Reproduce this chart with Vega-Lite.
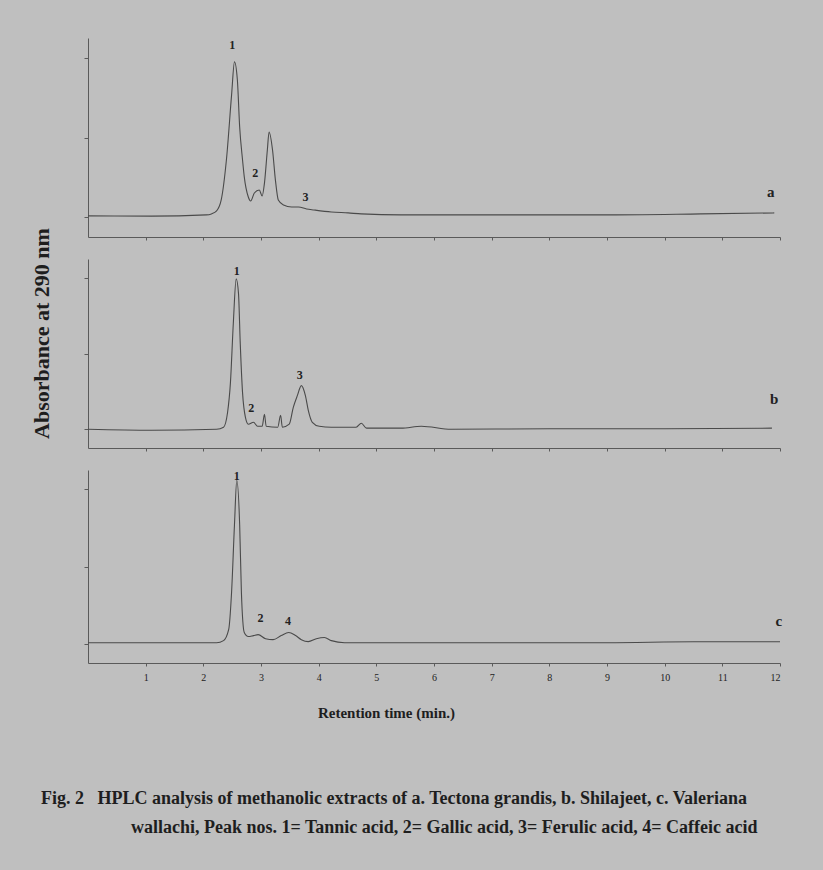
{
  "$schema": "https://vega.github.io/schema/vega-lite/v6.json",
  "background": "#bfbfbf",
  "padding": {"left": 29, "top": 38, "right": 60, "bottom": 60},
  "config": {
    "view": {"stroke": null},
    "font": "Liberation Serif",
    "axis": {"grid": false, "domainColor": "#5a5a5a", "tickColor": "#5a5a5a", "domainWidth": 1, "tickWidth": 1, "labelFont": "Liberation Serif", "titleFont": "Liberation Serif"}
  },
  "datasets": {
    "trace": [
      {"sample": "a", "t": 0, "v": 10.6}, {"sample": "a", "t": 1.1, "v": 10.5}, {"sample": "a", "t": 2.05, "v": 11.1}, {"sample": "a", "t": 2.14, "v": 11.6}, {"sample": "a", "t": 2.23, "v": 13.1}, {"sample": "a", "t": 2.31, "v": 18.6}, {"sample": "a", "t": 2.4, "v": 38.7}, {"sample": "a", "t": 2.49, "v": 71.4}, {"sample": "a", "t": 2.54, "v": 88.0}, {"sample": "a", "t": 2.59, "v": 79.0}, {"sample": "a", "t": 2.63, "v": 55.3}, {"sample": "a", "t": 2.68, "v": 38.7}, {"sample": "a", "t": 2.71, "v": 30.2}, {"sample": "a", "t": 2.78, "v": 20.1}, {"sample": "a", "t": 2.82, "v": 18.1}, {"sample": "a", "t": 2.885, "v": 22.1}, {"sample": "a", "t": 2.97, "v": 23.6}, {"sample": "a", "t": 3.02, "v": 20.6}, {"sample": "a", "t": 3.06, "v": 27.1}, {"sample": "a", "t": 3.11, "v": 43.7}, {"sample": "a", "t": 3.14, "v": 52.8}, {"sample": "a", "t": 3.2, "v": 43.7}, {"sample": "a", "t": 3.25, "v": 28.6}, {"sample": "a", "t": 3.3, "v": 18.6}, {"sample": "a", "t": 3.39, "v": 16.1}, {"sample": "a", "t": 3.53, "v": 15.1}, {"sample": "a", "t": 3.65, "v": 15.1}, {"sample": "a", "t": 3.79, "v": 14.1}, {"sample": "a", "t": 3.92, "v": 13.6}, {"sample": "a", "t": 4.22, "v": 12.6}, {"sample": "a", "t": 4.51, "v": 12.1}, {"sample": "a", "t": 4.74, "v": 11.6}, {"sample": "a", "t": 5.43, "v": 11.1}, {"sample": "a", "t": 7.17, "v": 11.1}, {"sample": "a", "t": 8.9, "v": 11.1}, {"sample": "a", "t": 10.63, "v": 11.6}, {"sample": "a", "t": 11.9, "v": 12.1},
      {"sample": "b", "t": 0, "v": 9.9}, {"sample": "b", "t": 1.1, "v": 9.4}, {"sample": "b", "t": 2.23, "v": 9.9}, {"sample": "b", "t": 2.35, "v": 11.0}, {"sample": "b", "t": 2.42, "v": 18.8}, {"sample": "b", "t": 2.47, "v": 34.6}, {"sample": "b", "t": 2.52, "v": 66.0}, {"sample": "b", "t": 2.57, "v": 89.5}, {"sample": "b", "t": 2.61, "v": 81.7}, {"sample": "b", "t": 2.64, "v": 55.5}, {"sample": "b", "t": 2.68, "v": 29.3}, {"sample": "b", "t": 2.73, "v": 16.2}, {"sample": "b", "t": 2.78, "v": 12.6}, {"sample": "b", "t": 2.87, "v": 13.6}, {"sample": "b", "t": 2.94, "v": 11.5}, {"sample": "b", "t": 3.02, "v": 11.5}, {"sample": "b", "t": 3.06, "v": 17.8}, {"sample": "b", "t": 3.09, "v": 11.5}, {"sample": "b", "t": 3.29, "v": 11.0}, {"sample": "b", "t": 3.34, "v": 17.3}, {"sample": "b", "t": 3.37, "v": 11.0}, {"sample": "b", "t": 3.49, "v": 12.6}, {"sample": "b", "t": 3.56, "v": 21.5}, {"sample": "b", "t": 3.63, "v": 27.7}, {"sample": "b", "t": 3.7, "v": 33.0}, {"sample": "b", "t": 3.77, "v": 27.7}, {"sample": "b", "t": 3.82, "v": 19.9}, {"sample": "b", "t": 3.89, "v": 13.6}, {"sample": "b", "t": 4.01, "v": 11.5}, {"sample": "b", "t": 4.22, "v": 11.0}, {"sample": "b", "t": 4.65, "v": 11.0}, {"sample": "b", "t": 4.74, "v": 13.1}, {"sample": "b", "t": 4.83, "v": 10.5}, {"sample": "b", "t": 5.43, "v": 10.5}, {"sample": "b", "t": 5.78, "v": 11.5}, {"sample": "b", "t": 6.3, "v": 9.9}, {"sample": "b", "t": 8.0, "v": 10.2}, {"sample": "b", "t": 10.0, "v": 10.2}, {"sample": "b", "t": 11.86, "v": 10.5},
      {"sample": "c", "t": 0, "v": 10.5}, {"sample": "c", "t": 1.1, "v": 10.5}, {"sample": "c", "t": 2.23, "v": 10.5}, {"sample": "c", "t": 2.35, "v": 11.6}, {"sample": "c", "t": 2.44, "v": 17.4}, {"sample": "c", "t": 2.49, "v": 36.8}, {"sample": "c", "t": 2.54, "v": 71.6}, {"sample": "c", "t": 2.58, "v": 94.7}, {"sample": "c", "t": 2.63, "v": 71.6}, {"sample": "c", "t": 2.66, "v": 36.8}, {"sample": "c", "t": 2.71, "v": 15.8}, {"sample": "c", "t": 2.78, "v": 13.7}, {"sample": "c", "t": 2.87, "v": 14.2}, {"sample": "c", "t": 2.95, "v": 14.7}, {"sample": "c", "t": 3.08, "v": 12.6}, {"sample": "c", "t": 3.21, "v": 12.1}, {"sample": "c", "t": 3.35, "v": 14.2}, {"sample": "c", "t": 3.48, "v": 15.8}, {"sample": "c", "t": 3.6, "v": 14.2}, {"sample": "c", "t": 3.7, "v": 12.1}, {"sample": "c", "t": 3.82, "v": 11.1}, {"sample": "c", "t": 3.96, "v": 12.6}, {"sample": "c", "t": 4.1, "v": 13.2}, {"sample": "c", "t": 4.22, "v": 11.6}, {"sample": "c", "t": 4.45, "v": 10.5}, {"sample": "c", "t": 5.43, "v": 10.5}, {"sample": "c", "t": 7.0, "v": 10.5}, {"sample": "c", "t": 9.0, "v": 10.5}, {"sample": "c", "t": 10.5, "v": 11.0}, {"sample": "c", "t": 12.0, "v": 11.0}
    ],
    "peaks": [
      {"sample": "a", "t": 2.5, "v": 96.5, "label": "1"}, {"sample": "a", "t": 2.9, "v": 32.2, "label": "2"}, {"sample": "a", "t": 3.77, "v": 20.1, "label": "3"},
      {"sample": "b", "t": 2.58, "v": 93.7, "label": "1"}, {"sample": "b", "t": 2.83, "v": 20.9, "label": "2"}, {"sample": "b", "t": 3.67, "v": 38.7, "label": "3"},
      {"sample": "c", "t": 2.58, "v": 97.0, "label": "1"}, {"sample": "c", "t": 2.99, "v": 23.2, "label": "2"}, {"sample": "c", "t": 3.47, "v": 21.6, "label": "4"}
    ],
    "tags": [
      {"sample": "a", "t": 11.84, "v": 22.6, "label": "a"},
      {"sample": "b", "t": 11.9, "v": 25.7, "label": "b"},
      {"sample": "c", "t": 11.98, "v": 21.6, "label": "c"}
    ]
  },
  "title": {
    "text": [
      "Fig. 2\u00a0\u00a0\u00a0HPLC analysis of methanolic extracts of a. Tectona grandis, b. Shilajeet, c. Valeriana",
      "\u200b\u00a0\u00a0\u00a0\u00a0\u00a0\u00a0\u00a0\u00a0\u00a0\u00a0\u00a0\u00a0\u00a0\u00a0\u00a0\u00a0\u00a0\u00a0\u00a0\u00a0wallachi, Peak nos. 1= Tannic acid, 2= Gallic acid, 3= Ferulic acid, 4= Caffeic acid"
    ],
    "orient": "bottom",
    "anchor": "start",
    "dx": 11,
    "offset": 70,
    "font": "Liberation Serif",
    "fontSize": 18,
    "fontWeight": "bold",
    "color": "#1e1e1e",
    "lineHeight": 29
  },
  "bounds": "flush",
  "spacing": 22,
  "vconcat": [
    {
      "width": 692,
      "height": 199,
      "layer": [
        {
          "data": {"name": "trace"},
          "transform": [{"filter": "datum.sample === 'a'"}],
          "mark": {"type": "line", "color": "#4a4a4a", "strokeWidth": 1.1, "interpolate": "monotone"},
          "encoding": {
            "x": {"field": "t", "type": "quantitative", "scale": {"domain": [0, 12], "nice": false, "zero": false},
                  "axis": {"values": [1, 2, 3, 4, 5, 6, 7, 8, 9, 10, 11, 12], "labels": false, "title": null, "tickSize": 3}},
            "y": {"field": "v", "type": "quantitative", "scale": {"domain": [0, 100], "nice": false},
                  "axis": {"values": [10, 50, 90], "labels": false, "title": null, "tickSize": 4}}
          }
        },
        {
          "data": {"name": "peaks"},
          "transform": [{"filter": "datum.sample === 'a'"}],
          "mark": {"type": "text", "font": "Liberation Serif", "fontWeight": "bold", "fontSize": 12, "color": "#222222"},
          "encoding": {"x": {"field": "t", "type": "quantitative"}, "y": {"field": "v", "type": "quantitative"}, "text": {"field": "label"}}
        },
        {
          "data": {"name": "tags"},
          "transform": [{"filter": "datum.sample === 'a'"}],
          "mark": {"type": "text", "font": "Liberation Serif", "fontWeight": "bold", "fontSize": 15, "color": "#222222"},
          "encoding": {"x": {"field": "t", "type": "quantitative"}, "y": {"field": "v", "type": "quantitative"}, "text": {"field": "label"}}
        }
      ]
    },
    {
      "width": 692,
      "height": 189,
      "layer": [
        {
          "data": {"name": "trace"},
          "transform": [{"filter": "datum.sample === 'b'"}],
          "mark": {"type": "line", "color": "#4a4a4a", "strokeWidth": 1.1, "interpolate": "monotone"},
          "encoding": {
            "x": {"field": "t", "type": "quantitative", "scale": {"domain": [0, 12], "nice": false, "zero": false},
                  "axis": {"values": [1, 2, 3, 4, 5, 6, 7, 8, 9, 10, 11, 12], "labels": false, "title": null, "tickSize": 3}},
            "y": {"field": "v", "type": "quantitative", "scale": {"domain": [0, 100], "nice": false},
                  "axis": {"values": [10, 50, 90], "labels": false, "tickSize": 4, "title": "Absorbance at 290 nm",
                           "titleFontSize": 22, "titleFontWeight": "bold", "titleColor": "#1e1e1e", "titleX": -35, "titleY": 74, "titleAngle": -90, "titleAlign": "center", "titleBaseline": "bottom"}}
          }
        },
        {
          "data": {"name": "peaks"},
          "transform": [{"filter": "datum.sample === 'b'"}],
          "mark": {"type": "text", "font": "Liberation Serif", "fontWeight": "bold", "fontSize": 12, "color": "#222222"},
          "encoding": {"x": {"field": "t", "type": "quantitative"}, "y": {"field": "v", "type": "quantitative"}, "text": {"field": "label"}}
        },
        {
          "data": {"name": "tags"},
          "transform": [{"filter": "datum.sample === 'b'"}],
          "mark": {"type": "text", "font": "Liberation Serif", "fontWeight": "bold", "fontSize": 15, "color": "#222222"},
          "encoding": {"x": {"field": "t", "type": "quantitative"}, "y": {"field": "v", "type": "quantitative"}, "text": {"field": "label"}}
        }
      ]
    },
    {
      "width": 692,
      "height": 193,
      "layer": [
        {
          "data": {"name": "trace"},
          "transform": [{"filter": "datum.sample === 'c'"}],
          "mark": {"type": "line", "color": "#4a4a4a", "strokeWidth": 1.1, "interpolate": "monotone"},
          "encoding": {
            "x": {"field": "t", "type": "quantitative", "scale": {"domain": [0, 12], "nice": false, "zero": false},
                  "axis": {"values": [1, 2, 3, 4, 5, 6, 7, 8, 9, 10, 11, 12], "format": "d", "tickSize": 3, "labelFontSize": 10, "labelColor": "#222222", "labelPadding": 6,
                           "title": "Retention time (min.)", "titleFontSize": 15, "titleFontWeight": "bold", "titleColor": "#1e1e1e", "titlePadding": 23, "titleX": 298, "titleAlign": "center"}},
            "y": {"field": "v", "type": "quantitative", "scale": {"domain": [0, 100], "nice": false},
                  "axis": {"values": [10, 50, 90], "labels": false, "title": null, "tickSize": 4}}
          }
        },
        {
          "data": {"name": "peaks"},
          "transform": [{"filter": "datum.sample === 'c'"}],
          "mark": {"type": "text", "font": "Liberation Serif", "fontWeight": "bold", "fontSize": 12, "color": "#222222"},
          "encoding": {"x": {"field": "t", "type": "quantitative"}, "y": {"field": "v", "type": "quantitative"}, "text": {"field": "label"}}
        },
        {
          "data": {"name": "tags"},
          "transform": [{"filter": "datum.sample === 'c'"}],
          "mark": {"type": "text", "font": "Liberation Serif", "fontWeight": "bold", "fontSize": 15, "color": "#222222"},
          "encoding": {"x": {"field": "t", "type": "quantitative"}, "y": {"field": "v", "type": "quantitative"}, "text": {"field": "label"}}
        }
      ]
    }
  ]
}
